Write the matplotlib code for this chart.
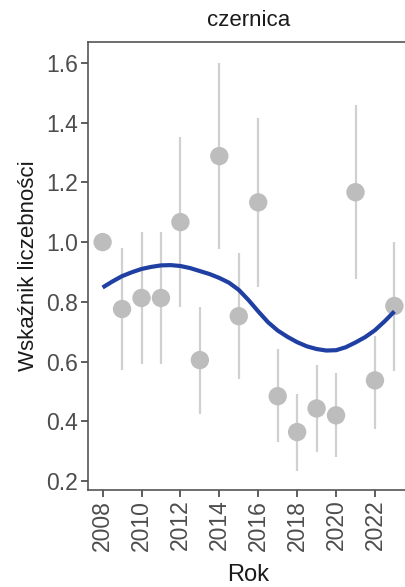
import matplotlib
matplotlib.use("Agg")
import matplotlib.pyplot as plt

title = "czernica"
xlabel = "Rok"
ylabel = "Wskaźnik liczebności"

years = [2008, 2009, 2010, 2011, 2012, 2013, 2014, 2015, 2016, 2017, 2018, 2019, 2020, 2021, 2022, 2023]
index = [1.00, 0.776, 0.813, 0.813, 1.067, 0.605, 1.288, 0.752, 1.133, 0.484, 0.364, 0.443, 0.420, 1.167, 0.537, 0.786]
lower = [1.00, 0.571, 0.592, 0.592, 0.782, 0.425, 0.977, 0.542, 0.849, 0.330, 0.235, 0.296, 0.281, 0.877, 0.373, 0.568]
upper = [1.00, 0.980, 1.033, 1.033, 1.353, 0.782, 1.600, 0.964, 1.414, 0.641, 0.490, 0.590, 0.562, 1.459, 0.685, 1.000]

trend_x = [2008.0, 2008.5, 2009.0, 2009.5, 2010.0, 2010.5, 2011.0, 2011.5, 2012.0, 2012.5,
           2013.0, 2013.5, 2014.0, 2014.5, 2015.0, 2015.5, 2016.0, 2016.5, 2017.0, 2017.5,
           2018.0, 2018.5, 2019.0, 2019.5, 2020.0, 2020.5, 2021.0, 2021.5, 2022.0, 2022.5, 2023.0]
trend_y = [0.848, 0.868, 0.886, 0.899, 0.910, 0.917, 0.922, 0.923, 0.920, 0.913,
           0.903, 0.893, 0.880, 0.864, 0.840, 0.806, 0.768, 0.732, 0.704, 0.683,
           0.665, 0.651, 0.642, 0.637, 0.638, 0.648, 0.664, 0.682, 0.705, 0.735, 0.768]

xticks = [2008, 2010, 2012, 2014, 2016, 2018, 2020, 2022]
yticks = [0.2, 0.4, 0.6, 0.8, 1.0, 1.2, 1.4, 1.6]
ytick_labels = ["0.2", "0.4", "0.6", "0.8", "1.0", "1.2", "1.4", "1.6"]

plt.rcParams['font.family'] = ['Liberation Sans', 'DejaVu Sans']

W, H = 406, 587
fig = plt.figure(figsize=(W / 100, H / 100), dpi=100)
left, right, top, bottom = 88, 409, 42, 490
ax = fig.add_axes([left / W, 1 - bottom / H, (right - left) / W, (bottom - top) / H])

for x, lo, hi in zip(years, lower, upper):
    ax.plot([x, x], [lo, hi], color="#d0d0d0", lw=1.6, solid_capstyle="butt", zorder=1)
ax.scatter(years, index, s=175, color="#bdbdbd", edgecolors="none", zorder=2)
ax.plot(trend_x, trend_y, color="#1f3fa3", lw=3.0, zorder=3, solid_capstyle="butt",
        solid_joinstyle="round")

ax.set_xlim(2007.25, 2023.75)
ax.set_ylim(0.17, 1.67)
ax.set_xticks(xticks)
ax.set_xticklabels([str(x) for x in xticks], rotation=90, fontsize=16.5, color="#4d4d4d")
ax.set_yticks(yticks)
ax.set_yticklabels(ytick_labels, fontsize=16.5, color="#4d4d4d")
ax.tick_params(axis="both", direction="out", length=5, width=1.1, color="#333333", pad=2)
for s in ax.spines.values():
    s.set_color("#555555")
    s.set_linewidth(1.2)

fig.text((left + (right - left) / 2) / W, 1 - 575 / H, xlabel, ha="center", va="center",
         fontsize=17, color="#1a1a1a")
ax.set_ylabel(ylabel, fontsize=16, color="#1a1a1a", labelpad=5)
fig.text((left + (right - left) / 2) / W, 1 - 21 / H, title, ha="center", va="center",
         fontsize=16, color="#1a1a1a")

fig.savefig("out.png", dpi=100)
